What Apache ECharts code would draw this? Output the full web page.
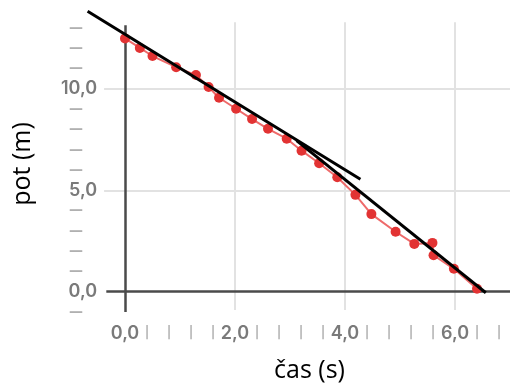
<!DOCTYPE html>
<html>
<head>
<meta charset="utf-8">
<script src="https://cdn.jsdelivr.net/npm/echarts@6/dist/echarts.min.js"></script>
<style>
html,body{margin:0;padding:0;background:#fff;}
#chart{width:513px;height:388px;}
</style>
</head>
<body>
<div id="chart"></div>
<script>
// measured points: time (s) and distance (m)
const timeS = [0.00, 0.27, 0.50, 0.93, 1.29, 1.52, 1.71, 2.02, 2.31, 2.60, 2.94, 3.21, 3.53, 3.86, 4.19, 4.48, 4.92, 5.26, 5.59, 5.61, 5.98, 6.40];
const distM = [12.50, 12.03, 11.63, 11.08, 10.69, 10.10, 9.57, 9.03, 8.52, 8.04, 7.55, 6.96, 6.34, 5.65, 4.78, 3.83, 2.96, 2.36, 2.41, 1.80, 1.13, 0.15];

// hand-drawn tangent lines (end points in data units)
const tangent1X = [-0.68, 4.28];
const tangent1Y = [13.84, 5.55];
const tangent2X = [3.12, 6.56];
const tangent2Y = [7.46, -0.05];

// axis ticks
const xMajorTicks = [0, 2, 4, 6];
const yMajorTicks = [0, 5, 10];
const xTitle = 'čas (s)';
const yTitle = 'pot (m)';

const fmt = v => v.toFixed(1).replace('.', ',');
const pairs = (xs, ys) => xs.map((x, i) => [x, ys[i]]);

const labelFont = {fontFamily: 'Inter', fontWeight: 600, fontSize: 18, color: '#7a7a7a'};

// visible plot frame (data units)
const X0 = -0.36, X1 = 7.0, Y0 = -1.0, Y1 = 13.15;

const chart = echarts.init(document.getElementById('chart'), null, {renderer: 'canvas'});
chart.setOption({
  animation: false,
  backgroundColor: '#fff',
  grid: {left: 81, right: 0, top: 8, bottom: 76, containLabel: false},
  xAxis: {
    type: 'value', min: -0.8, max: 7.0, interval: 0.4,
    axisLine: {show: false}, axisTick: {show: false}, splitLine: {show: false},
    name: xTitle, nameLocation: 'middle', nameGap: 46,
    nameTextStyle: {fontFamily: 'Open Sans', fontSize: 25, color: '#000', padding: [0, 0, 0, 28]},
    axisLabel: Object.assign({
      margin: 13,
      formatter: function (value) {
        const v = Math.round(value * 10) / 10;
        if (v < 0 || v > 6.9) return '';
        if (xMajorTicks.some(t => Math.abs(t - v) < 1e-6)) return fmt(v);
        return '{m||}';
      },
      rich: {m: {color: '#b5b5b5', fontSize: 14, fontFamily: 'DejaVu Sans'}}
    }, labelFont)
  },
  yAxis: {
    type: 'value', min: -1, max: 14, interval: 1, offset: -22,
    axisLine: {show: false}, axisTick: {show: false}, splitLine: {show: false},
    name: yTitle, nameLocation: 'middle', nameGap: 68,
    nameTextStyle: {fontFamily: 'Open Sans', fontSize: 25, color: '#000', padding: [0, 8, 0, 0]},
    axisLabel: Object.assign({
      margin: 6,
      formatter: function (value) {
        const v = Math.round(value * 100) / 100;
        if (Math.abs(v - Math.round(v)) > 1e-6 || v > 13.5) return '';
        if (yMajorTicks.includes(Math.round(v))) return fmt(v);
        return '{d|—}';
      },
      rich: {d: {color: '#b0b0b0', fontSize: 14, fontFamily: 'DejaVu Sans', padding: [0, 14, 0, 0]}}
    }, labelFont)
  },
  series: [
    {
      type: 'line', data: [], silent: true, z: 1,
      markLine: {
        silent: true, symbol: 'none', z: 1, animation: false,
        label: {show: false},
        lineStyle: {color: '#e2e2e2', width: 2, type: 'solid'},
        data: xMajorTicks.filter(t => t !== 0).map(t => [{coord: [t, -0.9]}, {coord: [t, 13.3]}])
          .concat(yMajorTicks.filter(t => t !== 0).map(t => [{coord: [X0 - 0.02, t]}, {coord: [X1, t]}]))
      }
    },
    {
      type: 'line', data: [], silent: true, z: 1,
      markLine: {
        silent: true, symbol: 'none', z: 1.5, animation: false,
        label: {show: false},
        lineStyle: {color: '#4a4a4a', width: 2.5, type: 'solid'},
        data: [
          [{coord: [X0 + 0.02, 0]}, {coord: [X1, 0]}],
          [{coord: [0, Y0]}, {coord: [0, Y1]}]
        ]
      }
    },
    {
      name: 'pot', type: 'line', z: 3,
      data: pairs(timeS, distM),
      symbol: 'circle', symbolSize: 10,
      itemStyle: {color: '#e23333', borderWidth: 0},
      lineStyle: {color: '#ee6a6a', width: 2}
    },
    {
      type: 'line', z: 5, clip: false, silent: true,
      data: pairs(tangent1X, tangent1Y),
      symbol: 'none',
      lineStyle: {color: '#000', width: 3}
    },
    {
      type: 'line', z: 5, clip: false, silent: true,
      data: pairs(tangent2X, tangent2Y),
      symbol: 'none',
      lineStyle: {color: '#000', width: 3}
    }
  ]
});
</script>
</body>
</html>
